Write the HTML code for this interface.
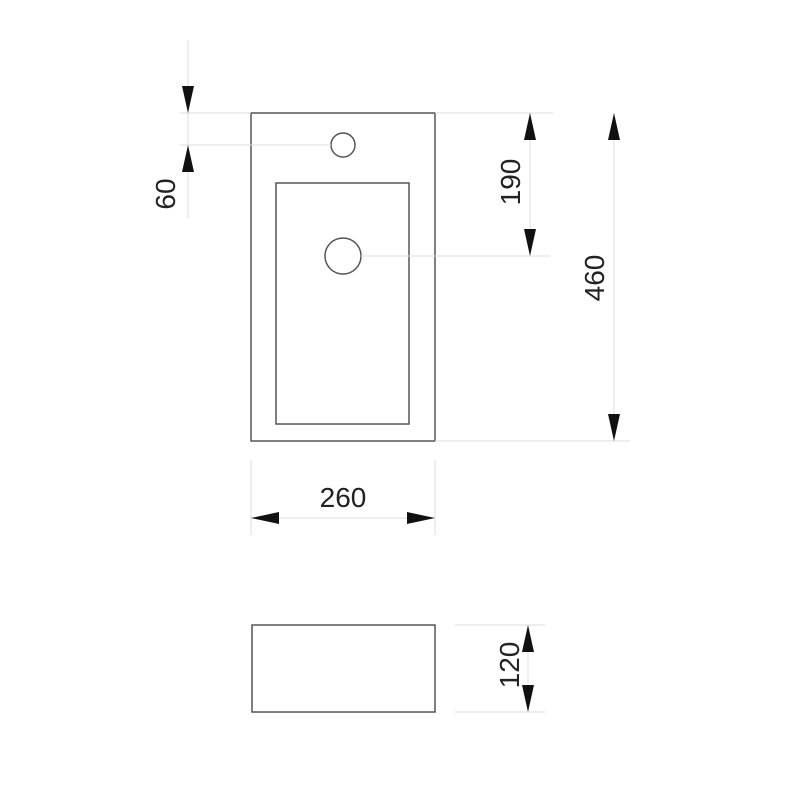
<!DOCTYPE html>
<html><head><meta charset="utf-8"><style>body{margin:0;background:#fff}</style></head><body>
<svg width="800" height="800" viewBox="0 0 800 800" xmlns="http://www.w3.org/2000/svg">
<g fill="none" stroke="#555" stroke-width="1.5">
<rect x="251" y="113" width="184" height="328"/>
<rect x="276" y="183" width="133" height="241"/>
<circle cx="343" cy="145" r="12"/>
<circle cx="343" cy="256" r="18"/>
<rect x="252" y="625" width="183" height="87"/>
</g>
<g stroke="#ddd" stroke-width="1">
<line x1="188" y1="40" x2="188" y2="218"/>
<line x1="180" y1="113" x2="251" y2="113"/>
<line x1="180" y1="145" x2="331" y2="145"/>
<line x1="435" y1="113" x2="553" y2="113"/>
<line x1="361" y1="256" x2="550" y2="256"/>
<line x1="435" y1="441" x2="630" y2="441"/>
<line x1="530" y1="113" x2="530" y2="256"/>
<line x1="614" y1="113" x2="614" y2="441"/>
<line x1="251" y1="460" x2="251" y2="535"/>
<line x1="435" y1="460" x2="435" y2="535"/>
<line x1="251" y1="518" x2="435" y2="518"/>
<line x1="455" y1="625" x2="545" y2="625"/>
<line x1="455" y1="712" x2="545" y2="712"/>
<line x1="528" y1="625" x2="528" y2="712"/>
</g>
<g fill="#111">
<polygon points="188,113 182,86 194,86"/>
<polygon points="188,145 182,172 194,172"/>
<polygon points="530,113 524,140 536,140"/>
<polygon points="530,256 524,229 536,229"/>
<polygon points="614,113 608,140 620,140"/>
<polygon points="614,441 608,414 620,414"/>
<polygon points="251,518 279,512 279,524"/>
<polygon points="435,518 407,512 407,524"/>
<polygon points="528,625 522,652 534,652"/>
<polygon points="528,712 522,685 534,685"/>
</g>
<g font-family="Liberation Sans, sans-serif" font-size="28" fill="#222" text-anchor="middle">
<text transform="translate(175,194) rotate(-90)">60</text>
<text transform="translate(520,182) rotate(-90)">190</text>
<text transform="translate(604,278) rotate(-90)">460</text>
<text x="343" y="507">260</text>
<text transform="translate(519,665) rotate(-90)">120</text>
</g>
</svg>
</body></html>
